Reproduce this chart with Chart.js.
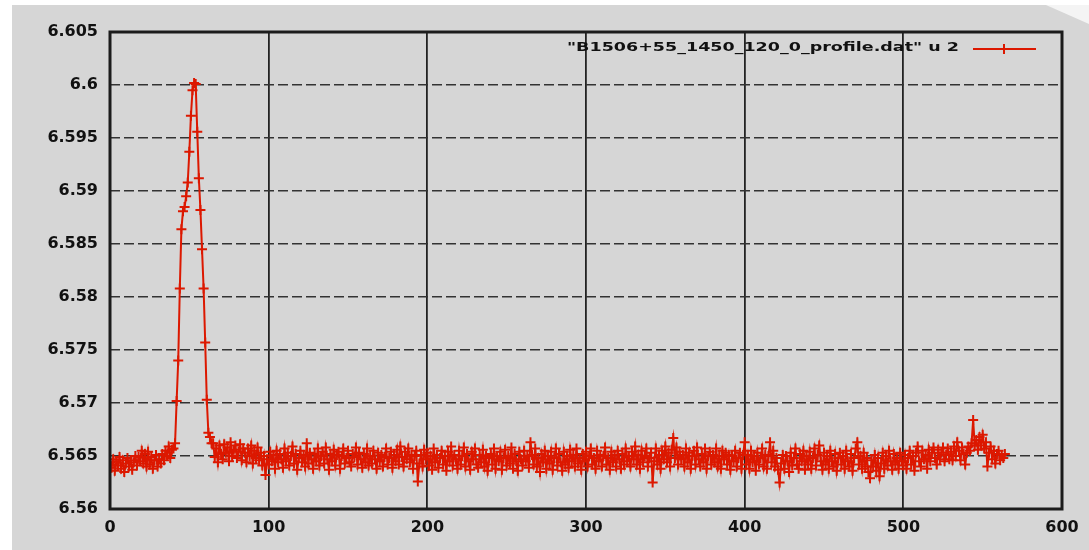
<!DOCTYPE html>
<html>
<head>
<meta charset="utf-8">
<script src="https://cdn.jsdelivr.net/npm/chart.js@4.4.0/dist/chart.umd.min.js"></script>
<style>
  html, body { margin: 0; padding: 0; background: #fff; }
  #wrap { width: 1089px; height: 550px; }
</style>
</head>
<body>
<div id="wrap"><canvas id="chart" width="1089" height="550"></canvas></div>
<script>
const seriesLabel = '"B1506+55_1450_120_0_profile.dat" u 2';
const xTicks = [0, 100, 200, 300, 400, 500, 600];
const yTicks = [6.56, 6.565, 6.57, 6.575, 6.58, 6.585, 6.59, 6.595, 6.6, 6.605];

// column 2 of the profile, one value per bin (bin = index)
const profile = [
  6.5644, 6.5639, 6.5647, 6.5636, 6.5645, 6.5641, 6.5649, 6.5638, 6.5646, 6.5635, 6.5643, 6.5648, 6.5640, 6.5646, 6.5637, 6.5644, 6.5650, 6.5641, 6.5649, 6.5645,
  6.5655, 6.5643, 6.5652, 6.5640, 6.5654, 6.5642, 6.5649, 6.5638, 6.5646, 6.5651, 6.5640, 6.5647, 6.5643, 6.5652, 6.5646, 6.5655, 6.5650, 6.5659, 6.5648, 6.5656,
  6.5657, 6.5662,
  6.5702, 6.5740, 6.5808, 6.5864, 6.5881, 6.5885, 6.5895, 6.5908, 6.5937, 6.5971, 6.5995, 6.6002, 6.6001, 6.5956, 6.5912, 6.5882, 6.5845, 6.5808, 6.5757, 6.5703, 6.5672, 6.5668, 6.5662,
  6.5662, 6.5649, 6.5657, 6.5644, 6.5660, 6.5652, 6.5647, 6.5661, 6.5653, 6.5658, 6.5645, 6.5663, 6.5650, 6.5656, 6.5660, 6.5648, 6.5654, 6.5661, 6.5646, 6.5657,
  6.5653, 6.5644, 6.5657, 6.5650, 6.5660, 6.5643, 6.5655, 6.5648, 6.5658, 6.5646, 6.5653, 6.5641, 6.5650, 6.5632, 6.5647,
  6.5642, 6.5654, 6.5645, 6.5651, 6.5638, 6.5655, 6.5644, 6.5652, 6.5647, 6.5639, 6.5657, 6.5645, 6.5653, 6.5641, 6.5650, 6.5659, 6.5643, 6.5652, 6.5637, 6.5648,
  6.5655, 6.5644, 6.5651, 6.5640, 6.5662, 6.5643, 6.5653, 6.5647, 6.5638, 6.5652, 6.5645, 6.5657, 6.5641, 6.5650, 6.5654, 6.5643, 6.5658, 6.5647, 6.5637, 6.5652,
  6.5645, 6.5656, 6.5641, 6.5651, 6.5654, 6.5638, 6.5650, 6.5657, 6.5643, 6.5648, 6.5655, 6.5644, 6.5640, 6.5652, 6.5649, 6.5658, 6.5642, 6.5653, 6.5647, 6.5639,
  6.5652, 6.5644, 6.5657, 6.5641, 6.5650, 6.5643, 6.5655, 6.5647, 6.5638, 6.5653, 6.5645, 6.5651, 6.5640, 6.5649, 6.5657, 6.5642, 6.5648, 6.5654, 6.5639, 6.5651,
  6.5645, 6.5656, 6.5642, 6.5659, 6.5649, 6.5640, 6.5654, 6.5647, 6.5657, 6.5644, 6.5651, 6.5638, 6.5650, 6.5655, 6.5626, 6.5643, 6.5651, 6.5640, 6.5656, 6.5647,
  6.5653, 6.5641, 6.5650, 6.5637, 6.5657, 6.5644, 6.5651, 6.5639, 6.5648, 6.5655, 6.5642, 6.5650, 6.5636, 6.5654, 6.5645, 6.5659, 6.5641, 6.5651, 6.5647, 6.5638,
  6.5655, 6.5642, 6.5650, 6.5658, 6.5640, 6.5652, 6.5645, 6.5637, 6.5654, 6.5647, 6.5657, 6.5642, 6.5639, 6.5651, 6.5644, 6.5656, 6.5640, 6.5650, 6.5636, 6.5648,
  6.5652, 6.5642, 6.5657, 6.5638, 6.5650, 6.5645, 6.5654, 6.5637, 6.5648, 6.5656, 6.5641, 6.5650, 6.5643, 6.5658, 6.5638, 6.5652, 6.5645, 6.5636, 6.5654, 6.5647,
  6.5641, 6.5655, 6.5645, 6.5650, 6.5639, 6.5663, 6.5651, 6.5642, 6.5657, 6.5640, 6.5648, 6.5635, 6.5652, 6.5644, 6.5655, 6.5638, 6.5650, 6.5643, 6.5654, 6.5637,
  6.5648, 6.5657, 6.5641, 6.5652, 6.5644, 6.5636, 6.5654, 6.5642, 6.5650, 6.5639, 6.5656, 6.5645, 6.5651, 6.5640, 6.5657, 6.5643, 6.5648, 6.5637, 6.5652, 6.5645,
  6.5654, 6.5640, 6.5650, 6.5657, 6.5642, 6.5648, 6.5638, 6.5655, 6.5645, 6.5651, 6.5640, 6.5650, 6.5658, 6.5642, 6.5648, 6.5637, 6.5654, 6.5644, 6.5651, 6.5640,
  6.5655, 6.5647, 6.5638, 6.5652, 6.5642, 6.5657, 6.5645, 6.5650, 6.5640, 6.5654, 6.5647, 6.5659, 6.5642, 6.5651, 6.5638, 6.5655, 6.5644, 6.5650, 6.5657, 6.5640,
  6.5648, 6.5653, 6.5625, 6.5645, 6.5657, 6.5642, 6.5651, 6.5638, 6.5655, 6.5647, 6.5659, 6.5644, 6.5653, 6.5640, 6.5656, 6.5667, 6.5648, 6.5658, 6.5642, 6.5654,
  6.5647, 6.5651, 6.5640, 6.5657, 6.5644, 6.5653, 6.5638, 6.5650, 6.5655, 6.5642, 6.5658, 6.5647, 6.5640, 6.5652, 6.5644, 6.5657, 6.5638, 6.5650, 6.5654, 6.5642,
  6.5651, 6.5644, 6.5657, 6.5640, 6.5650, 6.5638, 6.5655, 6.5647, 6.5653, 6.5642, 6.5651, 6.5637, 6.5650, 6.5645, 6.5655, 6.5640, 6.5648, 6.5653, 6.5638, 6.5651,
  6.5663, 6.5642, 6.5651, 6.5638, 6.5655, 6.5644, 6.5650, 6.5636, 6.5653, 6.5642, 6.5648, 6.5657, 6.5640, 6.5651, 6.5638, 6.5650, 6.5663, 6.5644, 6.5655, 6.5640,
  6.5648, 6.5637, 6.5625, 6.5643, 6.5651, 6.5638, 6.5650, 6.5645, 6.5635, 6.5653, 6.5641, 6.5648, 6.5657, 6.5642, 6.5638, 6.5652, 6.5645, 6.5655, 6.5637, 6.5650,
  6.5642, 6.5654, 6.5638, 6.5648, 6.5657, 6.5641, 6.5651, 6.5660, 6.5645, 6.5637, 6.5653, 6.5642, 6.5650, 6.5638, 6.5655, 6.5645, 6.5640, 6.5652, 6.5636, 6.5648,
  6.5653, 6.5642, 6.5650, 6.5638, 6.5655, 6.5645, 6.5640, 6.5652, 6.5636, 6.5648, 6.5657, 6.5663, 6.5642, 6.5650, 6.5638, 6.5653, 6.5640, 6.5648, 6.5635, 6.5629,
  6.5646, 6.5640, 6.5651, 6.5636, 6.5648, 6.5631, 6.5643, 6.5653, 6.5638, 6.5650, 6.5641, 6.5655, 6.5645, 6.5637, 6.5652, 6.5642, 6.5648, 6.5638, 6.5653, 6.5645,
  6.5641, 6.5651, 6.5638, 6.5648, 6.5655, 6.5642, 6.5650, 6.5636, 6.5653, 6.5659, 6.5645, 6.5640, 6.5655, 6.5647, 6.5651, 6.5638, 6.5656, 6.5645, 6.5653, 6.5658,
  6.5648, 6.5642, 6.5656, 6.5647, 6.5653, 6.5658, 6.5645, 6.5651, 6.5657, 6.5647, 6.5654, 6.5646, 6.5659, 6.5650, 6.5663, 6.5655, 6.5646, 6.5658, 6.5652, 6.5642,
  6.5653, 6.5659, 6.5655, 6.5662, 6.5684, 6.5660, 6.5665, 6.5656, 6.5668, 6.5660, 6.5670, 6.5657, 6.5663, 6.5640, 6.5653, 6.5659, 6.5647, 6.5655, 6.5643, 6.5652,
  6.5655, 6.5646, 6.5651, 6.5648, 6.5652
];

const red = 'rgb(220, 24, 0)';

const frame = {
  id: 'frame',
  beforeDraw(chart) {
    const ctx = chart.ctx;
    ctx.save();
    ctx.fillStyle = '#ffffff';
    ctx.fillRect(0, 0, chart.width, chart.height);
    ctx.fillStyle = '#d6d6d6';
    ctx.fillRect(12, 5, chart.width - 12, chart.height - 5);
    ctx.fillStyle = '#f4f4f4';
    ctx.beginPath();
    ctx.moveTo(1046, 5);
    ctx.lineTo(chart.width, 5);
    ctx.lineTo(chart.width, 24);
    ctx.closePath();
    ctx.fill();
    ctx.restore();
  },
  afterDraw(chart) {
    const { ctx, chartArea: a } = chart;
    ctx.save();
    ctx.strokeStyle = '#1c1c1c';
    ctx.lineWidth = 3;
    ctx.strokeRect(a.left, a.top, a.right - a.left, a.bottom - a.top);

    // key, gnuplot style, inside the top right corner
    ctx.font = 'bold 13px "DejaVu Sans"';
    const w = ctx.measureText(seriesLabel).width;
    ctx.save();
    ctx.translate(959, 48);
    ctx.scale(392 / w, 1);
    ctx.fillStyle = '#111';
    ctx.textAlign = 'right';
    ctx.textBaseline = 'middle';
    ctx.fillText(seriesLabel, 0, 0);
    ctx.restore();

    ctx.strokeStyle = red;
    ctx.lineWidth = 2;
    ctx.beginPath();
    ctx.moveTo(973, 49);
    ctx.lineTo(1036, 49);
    ctx.moveTo(1004, 44);
    ctx.lineTo(1004, 54);
    ctx.stroke();
    ctx.restore();
  }
};

const tickFont = { family: '"DejaVu Sans"', size: 16, weight: 'bold' };

new Chart(document.getElementById('chart'), {
  type: 'line',
  data: {
    datasets: [{
      label: seriesLabel,
      data: profile.map((v, i) => ({ x: i, y: v })),
      borderColor: red,
      backgroundColor: red,
      borderWidth: 2,
      pointStyle: 'cross',
      pointRadius: 5,
      pointBorderWidth: 2,
      pointHoverRadius: 5,
      tension: 0,
      fill: false
    }]
  },
  options: {
    responsive: false,
    animation: false,
    events: [],
    layout: { padding: { top: 32, right: 27, left: 0, bottom: 0 } },
    plugins: { legend: { display: false }, tooltip: { enabled: false } },
    scales: {
      x: {
        type: 'linear',
        min: 0,
        max: 600,
        afterBuildTicks: s => { s.ticks = xTicks.map(v => ({ value: v })); },
        afterFit: s => { s.height = 41; },
        grid: { color: '#222', lineWidth: 1.8, drawTicks: false },
        border: { display: false },
        ticks: { padding: 9, color: '#111', font: tickFont, maxRotation: 0, autoSkip: false }
      },
      y: {
        min: 6.56,
        max: 6.605,
        afterBuildTicks: s => { s.ticks = yTicks.map(v => ({ value: v })); },
        afterFit: s => { s.width = 110; },
        grid: { color: '#333', lineWidth: 1.5, drawTicks: false },
        border: { display: false, dash: [10, 4] },
        ticks: { padding: 12, color: '#111', font: tickFont, autoSkip: false, callback: v => String(v) }
      }
    }
  },
  plugins: [frame]
});
</script>
</body>
</html>
